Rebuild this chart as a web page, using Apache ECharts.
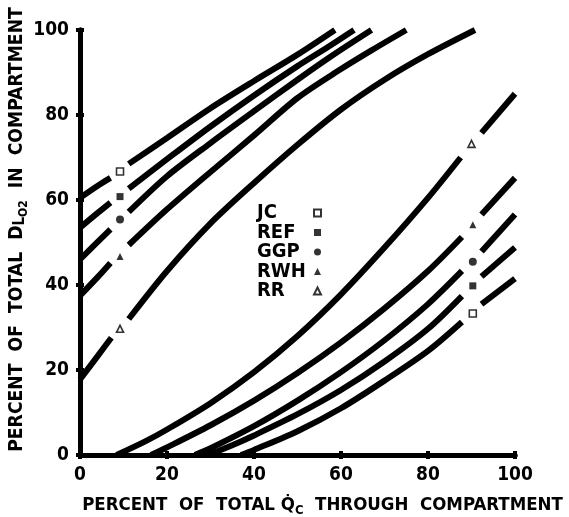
<!DOCTYPE html>
<html>
<head>
<meta charset="utf-8">
<script src="https://cdn.jsdelivr.net/npm/echarts@6/dist/echarts.min.js"></script>
<style>
  html, body { margin: 0; padding: 0; background: #fff; }
  #chart { width: 569px; height: 517px; }
</style>
</head>
<body>
<div id="chart"></div>
<script>
// subjects, in legend order
var subjects = ['JC', 'REF', 'GGP', 'RWH', 'RR'];
var symbols = ['rect', 'rect', 'circle', 'triangle', 'triangle'];
var hollow = [true, false, false, false, true];

// upper family (x = % Qc, y = % DLO2); null = break in the line at the marker
var upperJC  = [[0,60.5],[4,63.3],[7,65.2],null,[11.2,68.5],[20,74.6],[30,81.6],[40,88],[50,94.2],[58.6,100]];
var upperREF = [[0,53.5],[4,56.9],[7,59.4],null,[11.2,62.7],[20,69.6],[30,77.3],[40,84.6],[50,91.5],[57,96],[63,100]];
var upperGGP = [[0,46],[4,50.1],[7,53.1],null,[11.2,57.2],[20,65.6],[30,73.4],[40,80.9],[50,88.3],[58,94],[67,100]];
var upperRWH = [[0,37.5],[4,41.8],[7,45.2],null,[11.2,49.4],[20,57.8],[30,66.6],[40,75.2],[50,84],[60,90.8],[67,95.2],[75,100]];
var upperRR  = [[0,17.8],[4,23.2],[7.2,27.6],null,[11.2,32],[20,43.3],[30,54.5],[40,64],[50,73],[60,81.3],[70,88.3],[80,94.3],[90.8,100]];

// lower family
var lowerJC  = [[37,0],[40,1.2],[50,5.6],[60,11],[70,17.5],[80,24.5],[87.8,31.3],null,[92.3,35.5],[100,41.5]];
var lowerREF = [[29.4,0],[35,2.3],[40,4.6],[50,9.6],[60,15.3],[70,22],[80,29.7],[87.8,37.4],null,[92.3,42],[100,48.8]];
var lowerGGP = [[26.4,0],[30,1.6],[40,6.8],[50,12.8],[60,19.5],[70,27],[80,35.5],[87.8,43.3],null,[92.3,47.9],[100,56.6]];
var lowerRWH = [[16.3,0],[20,1.8],[30,7],[40,12.8],[50,19.3],[60,26.5],[70,34.5],[80,43.3],[87.8,51.3],null,[92.3,56.6],[100,65.2]];
var lowerRR  = [[8.4,0],[15,3.2],[20,6],[30,12.2],[40,19.5],[50,28],[60,37.8],[70,48.8],[80,60.5],[87.5,70],null,[92.3,75.8],[100,85]];

// marker points (one on each curve)
var markJC  = [[9.2,66.7],[90.3,33.3]];
var markREF = [[9.2,60.8],[90.3,39.8]];
var markGGP = [[9.2,55.4],[90.3,45.5]];
var markRWH = [[9.2,46.7],[90.3,54.2]];
var markRR  = [[9.2,29.7],[90,73.2]];

var xTicks = [0, 20, 40, 60, 80, 100];
var yTicks = [0, 20, 40, 60, 80, 100];

var curves = [upperJC, upperREF, upperGGP, upperRWH, upperRR, lowerJC, lowerREF, lowerGGP, lowerRWH, lowerRR];
var marks = [markJC, markREF, markGGP, markRWH, markRR];

var font = 'DejaVu Sans Condensed';

// split a curve at null entries into separate pieces
function pieces(arr) {
    var out = [], cur = [];
    for (var i = 0; i < arr.length; i++) {
        if (arr[i] === null) { out.push(cur); cur = []; }
        else cur.push(arr[i]);
    }
    out.push(cur);
    return out;
}

var series = [];
curves.forEach(function (c, ci) {
    pieces(c).forEach(function (p, pi) {
        series.push({
            name: 'curve' + ci + '_' + pi,
            type: 'line',
            data: p,
            smooth: 0.3,
            showSymbol: false,
            silent: true,
            lineStyle: { color: '#000', width: 6, cap: 'butt' },
            z: 3
        });
    });
});
marks.forEach(function (m, i) {
    series.push({
        name: subjects[i],
        type: 'scatter',
        data: m,
        symbol: symbols[i],
        symbolSize: symbols[i] === 'circle' ? 8 : 7,
        itemStyle: hollow[i]
            ? { color: '#fff', borderColor: '#000', borderWidth: 1.6 }
            : { color: '#000' },
        z: 4
    });
});

var axisLine = { show: true, lineStyle: { color: '#000', width: 5 } };
var axisTick = { show: true, inside: false, length: 4, lineStyle: { color: '#000', width: 4 } };
var tickLabel = { color: '#000', fontFamily: font, fontWeight: 'bold', fontSize: 19 };

var option = {
    animation: false,
    backgroundColor: '#fff',
    grid: { left: 80, right: 54, top: 30, bottom: 62, outerBoundsMode: 'none' },
    legend: {
        data: subjects,
        orient: 'vertical',
        left: 252,
        top: 198,
        align: 'right',
        itemGap: -0.5,
        itemWidth: 7,
        itemHeight: 7,
        selectedMode: false,
        formatter: function (n) { return '{t|' + n + '}'; },
        textStyle: {
            color: '#000', fontFamily: font, fontWeight: 'bold', fontSize: 20,
            rich: { t: { width: 52, align: 'left', fontFamily: font, fontWeight: 'bold', fontSize: 20, color: '#000' } }
        }
    },
    xAxis: [{
        type: 'value', min: 0, max: 100, interval: 20,
        axisLine: axisLine, axisTick: axisTick, splitLine: { show: false },
        axisLabel: Object.assign({ margin: 11, formatter: function (v) { return xTicks.indexOf(v) >= 0 ? String(v) : ''; } }, tickLabel),
        name: 'PERCENT  OF  TOTAL Q\u0307{s|C}  THROUGH  COMPARTMENT',
        nameLocation: 'middle', nameGap: 39, nameMoveOverlap: false,
        nameTextStyle: {
            color: '#000', fontFamily: font, fontWeight: 'bold', fontSize: 18.5,
            padding: [0, 0, 0, 50],
            rich: { s: { fontFamily: font, fontWeight: 'bold', fontSize: 13, padding: [10, 0, 0, 0], color: '#000' } }
        }
    }, {
        type: 'value', min: 0, max: 100, interval: 20, position: 'top',
        axisLine: axisLine, axisTick: axisTick, splitLine: { show: false }, axisLabel: { show: false }
    }],
    yAxis: [{
        type: 'value', min: 0, max: 100, interval: 20,
        axisLine: axisLine, axisTick: axisTick, splitLine: { show: false },
        axisLabel: Object.assign({ margin: 11, formatter: function (v) { return yTicks.indexOf(v) >= 0 ? String(v) : ''; } }, tickLabel),
        name: 'PERCENT  OF  TOTAL  D{s1|L}{s2|O2}  IN  COMPARTMENT',
        nameLocation: 'middle', nameRotate: 90, nameGap: 50, nameMoveOverlap: false,
        nameTextStyle: {
            color: '#000', fontFamily: font, fontWeight: 'bold', fontSize: 19.2,
            padding: [0, 0, 0, 26],
            rich: {
                s1: { fontFamily: font, fontWeight: 'bold', fontSize: 15, padding: [5, 0, 0, 0], color: '#000' },
                s2: { fontFamily: font, fontWeight: 'bold', fontSize: 12, padding: [13, 0, 0, 0], color: '#000' }
            }
        }
    }, {
        type: 'value', min: 0, max: 100, interval: 20, position: 'right',
        axisLine: axisLine, axisTick: axisTick, splitLine: { show: false }, axisLabel: { show: false }
    }],
    series: series
};

var chart = echarts.init(document.getElementById('chart'), null, { renderer: 'canvas' });
chart.setOption(option);
</script>
</body>
</html>
